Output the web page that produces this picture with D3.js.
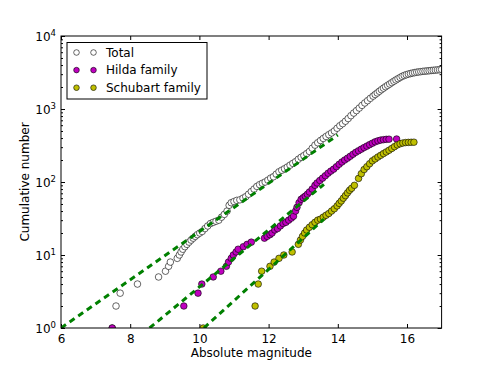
<!DOCTYPE html>
<html>
<head>
<meta charset="utf-8">
<script src="https://cdn.jsdelivr.net/npm/d3@7"></script>
<style>
  body { margin: 0; background: #fff; }
  text { font-family: "DejaVu Sans", sans-serif; }
</style>
</head>
<body>
<div id="chart"></div>
<script>
// cumulative counts: absolute magnitude -> N(<M)
var totalMag = [7.48, 7.59, 7.71, 8.21, 8.82, 9.02, 9.11, 9.16, 9.36, 9.42, 9.47, 9.52, 9.58, 9.64, 9.70, 9.76, 9.82, 9.88, 9.94, 10.01,
  10.08, 10.16, 10.24, 10.32, 10.40, 10.48, 10.56, 10.64, 10.72, 10.80, 10.86, 10.92, 11.00, 11.08, 11.17, 11.26, 11.34, 11.42, 11.50, 11.58,
  11.66, 11.74, 11.82, 11.90, 11.98, 12.06, 12.14, 12.22, 12.30, 12.38, 12.46, 12.54, 12.62, 12.70, 12.78, 12.86, 12.94, 13.02, 13.10, 13.18,
  13.26, 13.34, 13.42, 13.50, 13.58, 13.66, 13.74, 13.82, 13.90, 13.98, 14.06, 14.14, 14.22, 14.30, 14.38, 14.46, 14.54, 14.62, 14.70, 14.78,
  14.86, 14.94, 15.02, 15.08, 15.14, 15.20, 15.26, 15.32, 15.38, 15.44, 15.50, 15.56, 15.62, 15.68, 15.74, 15.80, 15.86, 15.92, 15.98, 16.04,
  16.10, 16.16, 16.22, 16.28, 16.34, 16.40, 16.46, 16.52, 16.58, 16.64, 16.70, 16.76, 16.82, 16.88, 16.94, 17.00]
var totalN = [1, 2, 3, 4, 5, 6, 7, 8, 9, 10, 11, 12, 13, 14, 15, 16, 17, 18, 19, 20,
  21, 23, 25, 27, 28, 29, 30, 33, 36, 40, 48, 52, 54, 56, 57, 60, 63, 68, 74, 80,
  87, 92, 96, 100, 106, 113, 118, 128, 138, 145, 152, 160, 170, 180, 190, 205, 218, 230, 245, 262,
  290, 320, 345, 370, 395, 420, 445, 470, 500, 545, 590, 630, 680, 740, 810, 880, 950, 1030, 1120, 1210,
  1300, 1400, 1500, 1580, 1660, 1750, 1840, 1930, 2020, 2110, 2200, 2300, 2400, 2500, 2600, 2700, 2800, 2880, 2950, 3010,
  3060, 3110, 3150, 3190, 3220, 3250, 3280, 3300, 3320, 3340, 3370, 3390, 3410, 3430, 3450, 3480]

var hildaMag = [7.48, 9.55, 9.96, 10.07, 10.40, 10.62, 10.78, 10.84, 10.92, 10.98, 11.06, 11.12, 11.27, 11.38, 11.50, 11.88, 11.96, 12.04, 12.10, 12.18,
  12.26, 12.34, 12.42, 12.50, 12.58, 12.66, 12.72, 12.78, 12.82, 12.88, 12.94, 13.00, 13.06, 13.12, 13.18, 13.26, 13.34, 13.40, 13.48, 13.56,
  13.64, 13.72, 13.80, 13.88, 13.96, 14.04, 14.12, 14.20, 14.28, 14.36, 14.44, 14.52, 14.60, 14.68, 14.76, 14.84, 14.92, 15.00, 15.08, 15.16,
  15.24, 15.32, 15.40, 15.48, 15.70]
var hildaN = [1, 2, 3, 4, 5, 6, 7, 8, 9, 10, 11, 12, 13, 14, 15, 17, 18, 19, 20, 22,
  23, 25, 27, 28, 30, 32, 34, 40, 45, 52, 58, 61, 64, 68, 73, 80, 90, 97, 105, 113,
  122, 132, 141, 150, 162, 175, 188, 200, 212, 225, 240, 255, 268, 282, 296, 310, 325, 340, 355, 366,
  375, 380, 384, 386, 388]

var schubartMag = [10.11, 11.61, 11.70, 11.80, 12.04, 12.16, 12.30, 12.44, 12.68, 12.86, 12.92, 12.98, 13.04, 13.10, 13.18, 13.26, 13.34, 13.42, 13.50, 13.58,
  13.66, 13.74, 13.82, 13.90, 13.98, 14.04, 14.10, 14.16, 14.22, 14.28, 14.34, 14.40, 14.48, 14.60, 14.68, 14.76, 14.84, 14.92, 15.00, 15.08,
  15.16, 15.24, 15.32, 15.40, 15.48, 15.56, 15.64, 15.72, 15.80, 15.88, 15.96, 16.04, 16.12, 16.20]
var schubartN = [1, 2, 4, 6, 7, 8, 9, 10, 11, 14, 16, 18, 20, 22, 24, 26, 28, 30, 31, 33,
  35, 37, 40, 43, 47, 51, 55, 60, 65, 71, 77, 82, 90, 112, 130, 148, 162, 178, 195, 207,
  220, 232, 245, 258, 272, 288, 305, 322, 334, 342, 347, 349, 350, 351]

// straight-line fits (endpoints in magnitude / count)
var fitLines = [
  [[6.0, 1], [14.0, 440]],
  [[8.56, 1], [13.6, 93]],
  [[10.13, 1], [13.6, 31]]
]

var legendNames = ["Total", "Hilda family", "Schubart family"]
var xTicks = [6, 8, 10, 12, 14, 16]
var yTicks = [1, 10, 100, 1000, 10000]
var yExponents = ["0", "1", "2", "3", "4"]

var svgSize = { width: 491, height: 368 }
var margin = { top: 36, bottom: 40, left: 61, right: 49.4 }
var chartSize = {
  width: svgSize.width - margin.left - margin.right,
  height: svgSize.height - margin.top - margin.bottom
}

var svg = d3.select("#chart").append("svg")
  .attr("width", svgSize.width)
  .attr("height", svgSize.height)

svg.append("rect").attr("width", svgSize.width).attr("height", svgSize.height).attr("fill", "#fff")

var frame = svg.append("g")
  .attr("transform", `translate(${margin.left}, ${margin.top})`)

var xScale = d3.scaleLinear().domain([6, 17]).range([0, chartSize.width])
var yScale = d3.scaleLog().domain([1, 10000]).range([chartSize.height, 0])

var minorY = yScale.ticks().filter(v => yTicks.indexOf(v) < 0)

// axes, ticks pointing inward on all four sides
var bottom = frame.append("g").attr("transform", `translate(0, ${chartSize.height})`)
  .call(d3.axisBottom(xScale).tickValues(xTicks).tickSizeInner(-4).tickSizeOuter(0).tickPadding(6).tickFormat(d3.format("d")))
frame.append("g")
  .call(d3.axisTop(xScale).tickValues(xTicks).tickSizeInner(-4).tickSizeOuter(0).tickFormat(""))

var left = frame.append("g")
  .call(d3.axisLeft(yScale).tickValues(yTicks).tickSizeInner(-4).tickSizeOuter(0).tickPadding(6))
frame.append("g")
  .call(d3.axisLeft(yScale).tickValues(minorY).tickSizeInner(-2).tickSizeOuter(0).tickFormat(""))
frame.append("g").attr("transform", `translate(${chartSize.width}, 0)`)
  .call(d3.axisRight(yScale).tickValues(yTicks).tickSizeInner(-4).tickSizeOuter(0).tickFormat(""))
frame.append("g").attr("transform", `translate(${chartSize.width}, 0)`)
  .call(d3.axisRight(yScale).tickValues(minorY).tickSizeInner(-2).tickSizeOuter(0).tickFormat(""))

frame.selectAll(".domain").remove()
frame.selectAll(".tick line").attr("stroke", "#000")
frame.selectAll(".tick text").attr("font-size", 12).attr("fill", "#000").attr("font-family", "DejaVu Sans")

// power-of-ten labels
left.selectAll(".tick text").each(function (d, i) {
  var t = d3.select(this).text(null).attr("dy", "0.35em").attr("x", -5)
  t.append("tspan").text("10")
  t.append("tspan").attr("font-size", 8.5).attr("dy", "-0.6em").text(yExponents[i])
})

frame.append("text")
  .attr("x", chartSize.width / 2).attr("y", chartSize.height + 29)
  .attr("text-anchor", "middle").attr("font-size", 12)
  .text("Absolute magnitude")
frame.append("text")
  .attr("transform", `translate(-32, ${chartSize.height / 2}) rotate(-90)`)
  .attr("text-anchor", "middle").attr("font-size", 12)
  .text("Cumulative number")

var series = [
  { mag: totalMag, n: totalN, fill: "#ffffff" },
  { mag: hildaMag, n: hildaN, fill: "#bf00bf" },
  { mag: schubartMag, n: schubartN, fill: "#bfbf00" }
]

var clip = svg.append("clipPath").attr("id", "plotclip")
  .append("rect").attr("width", chartSize.width).attr("height", chartSize.height)

var chartData = frame.append("g").attr("id", "ChartData").attr("clip-path", "url(#plotclip)")

series.forEach(s => {
  chartData.append("g").selectAll("circle").data(s.mag)
    .enter().append("circle")
    .attr("cx", m => xScale(m))
    .attr("cy", (m, i) => yScale(s.n[i]))
    .attr("r", 3.3)
    .attr("fill", s.fill)
    .attr("stroke", "#000")
    .attr("stroke-width", 0.6)
})

var line = d3.line().x(p => xScale(p[0])).y(p => yScale(p[1]))
chartData.selectAll("path.fit").data(fitLines)
  .enter().append("path")
  .attr("class", "fit")
  .attr("d", line)
  .attr("fill", "none")
  .attr("stroke", "#008000")
  .attr("stroke-width", 3)
  .attr("stroke-dasharray", "6,4.5")

frame.append("rect")
  .attr("width", chartSize.width).attr("height", chartSize.height)
  .attr("fill", "none").attr("stroke", "#000").attr("stroke-width", 1)

// legend
var legend = frame.append("g").attr("transform", "translate(6, 6.5)")
legend.append("rect").attr("width", 140).attr("height", 56.5)
  .attr("fill", "#fff").attr("stroke", "#000").attr("stroke-width", 1)
var rows = legend.selectAll("g.row").data(legendNames)
  .enter().append("g").attr("class", "row")
  .attr("transform", (d, i) => `translate(0, ${10 + i * 17.6})`)
rows.each(function (d, i) {
  var r = d3.select(this)
  ;[9.5, 26.5].forEach(cx => {
    r.append("circle").attr("cx", cx).attr("cy", 0).attr("r", 2.8)
      .attr("fill", series[i].fill).attr("stroke", "#000").attr("stroke-width", 0.6)
  })
  r.append("text").attr("x", 39).attr("y", 4.3).attr("font-size", 12).text(d)
})
</script>
</body>
</html>
